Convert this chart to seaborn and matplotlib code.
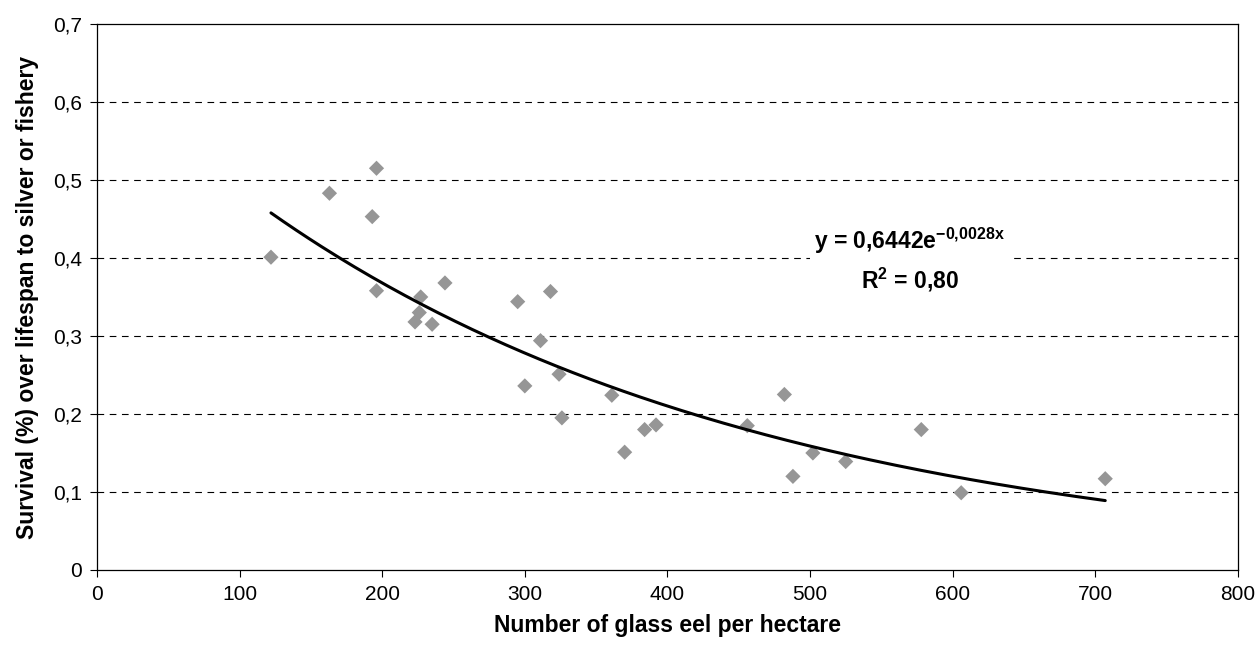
import numpy as np
import pandas as pd
import matplotlib
matplotlib.use("Agg")
import matplotlib.pyplot as plt
from matplotlib.ticker import FuncFormatter, MultipleLocator
import seaborn as sns

# glass eel density (per ha) vs survival over lifespan
glass_eel = [122, 163, 193, 196, 196, 223, 226, 227, 235, 244,
             295, 300, 311, 318, 324, 326, 361, 370, 384, 392,
             456, 482, 488, 502, 525, 578, 606, 707]
survival = [0.401, 0.483, 0.453, 0.515, 0.358, 0.318, 0.330, 0.350, 0.315, 0.368,
            0.344, 0.236, 0.294, 0.357, 0.251, 0.195, 0.224, 0.151, 0.180, 0.186,
            0.185, 0.225, 0.120, 0.150, 0.139, 0.180, 0.099, 0.117]

# exponential trendline coefficients (as printed on the chart)
fit_a = 0.6442
fit_b = -0.0028

sns.set_style("white")
plt.rcParams["font.family"] = ["Liberation Sans", "DejaVu Sans"]
plt.rcParams["text.color"] = "black"
plt.rcParams["axes.labelcolor"] = "black"
plt.rcParams["xtick.color"] = "black"
plt.rcParams["ytick.color"] = "black"
plt.rcParams["mathtext.fontset"] = "custom"
plt.rcParams["mathtext.rm"] = "Liberation Sans"
plt.rcParams["mathtext.bf"] = "Liberation Sans:bold"

df = pd.DataFrame({"x": glass_eel, "y": survival})
xs = np.linspace(min(glass_eel), max(glass_eel), 200)
trend = pd.DataFrame({"x": xs, "y": fit_a * np.exp(fit_b * xs)})

fig = plt.figure(figsize=(12.58, 6.55), dpi=100)
ax = fig.add_axes([0.0771, 0.1298, 0.9069, 0.8336])

for yv in np.arange(0.1, 0.65, 0.1):
    ax.axhline(yv, color="black", lw=0.8, ls=(0, (6, 5)), zorder=0)

sns.scatterplot(data=df, x="x", y="y", marker="D", s=60, color="#969696",
                edgecolor="none", ax=ax, zorder=3)
sns.lineplot(data=trend, x="x", y="y", color="black", lw=2.2, ax=ax, zorder=4)

ax.set_xlim(0, 800)
ax.set_ylim(0, 0.7)
ax.xaxis.set_major_locator(MultipleLocator(100))
ax.yaxis.set_major_locator(MultipleLocator(0.1))
ax.yaxis.set_major_formatter(FuncFormatter(lambda v, p: ("%.1f" % v).replace(".", ",") if v > 0.001 else "0"))
ax.tick_params(axis="both", direction="out", length=5, width=0.8, labelsize=15,
               bottom=True, left=True, pad=6)
for s in ax.spines.values():
    s.set_color("black")
    s.set_linewidth(0.9)

ax.set_xlabel("Number of glass eel per hectare", fontsize=16.5, fontweight="bold", labelpad=7)
ax.set_ylabel("Survival (%) over lifespan to silver or fishery", fontsize=16.5, fontweight="bold", labelpad=10)

ax.text(0.7125, 0.568, "y = 0,6442e$^{\\mathbf{-0{,}0028x}}$\nR$^{\\mathbf{2}}$ = 0,80",
        transform=ax.transAxes, ha="center", va="center", fontsize=16.5,
        fontweight="bold", linespacing=1.4, zorder=5,
        bbox=dict(facecolor="white", edgecolor="none", pad=3))

fig.savefig("out.png", dpi=100)
